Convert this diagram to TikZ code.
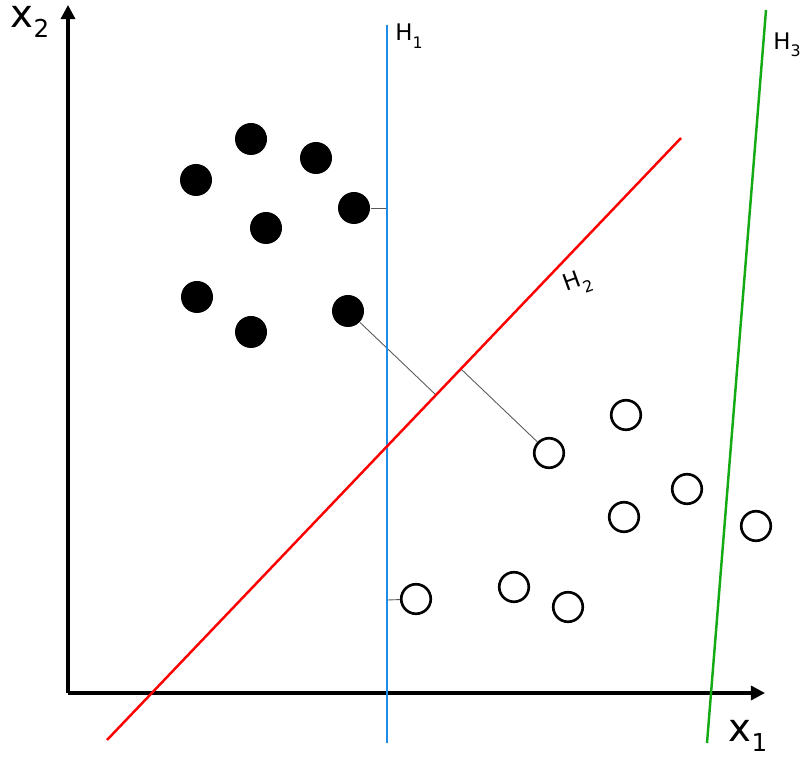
\documentclass[tikz,border=0pt]{standalone}
\usepackage{fontspec}
\setmainfont{DejaVu Sans}
\usetikzlibrary{arrows.meta}
\definecolor{hblue}{RGB}{30,140,230}
\definecolor{hgreen}{RGB}{20,170,20}
\begin{document}
\begin{tikzpicture}[x=0.01cm,y=-0.01cm]
        \tikzstyle{axis}=[line width=0.9pt,-{Triangle[length=4pt,width=4pt]}]
        \tikzstyle{filled}=[circle,fill=black,minimum size=9.1pt,inner sep=0pt]
        \tikzstyle{hollow}=[circle,draw=black,line width=0.75pt,minimum size=8.4pt,inner sep=0pt]
        \tikzstyle{gap}=[draw=gray!70!black,line width=0.25pt]
        \tikzstyle{hlabel}=[font=\fontsize{6.5}{7}\selectfont,inner sep=0pt]
        \useasboundingbox (0,0) rectangle (800,764);

        \coordinate (O) at (68,693);
        \draw[axis] (O) -- (68,5);
        \draw[axis] (O) -- (765,693);
        \node[inner sep=0pt] (lx2) at (30,22) {\fontsize{11}{11}\selectfont x\raisebox{-0.5ex}{\fontsize{7}{7}\selectfont 2}};
        \node[inner sep=0pt] (lx1) at (748,736) {\fontsize{11}{11}\selectfont x\raisebox{-0.5ex}{\fontsize{7}{7}\selectfont 1}};

        \foreach \name/\x/\y in {B-1/196/180, B-2/251/139, B-3/316/158, B-4/354/208,
                  B-5/266/228, B-6/197/297, B-7/251/332, B-8/348/311}
                \node[filled] (\name) at (\x,\y) {};
        \foreach \name/\x/\y in {W-1/549/453, W-2/626/415, W-3/687/489, W-4/624/517,
                  W-5/756/526, W-6/416/599, W-7/514/587, W-8/568/607}
                \node[hollow] (\name) at (\x,\y) {};

        % margins
        \coordinate (F-1) at (387,208);
        \coordinate (F-2) at (387,600);
        \coordinate (F-3) at (436,395);
        \coordinate (F-4) at (461,369);
        \draw[gap] (B-4) -- (F-1);
        \draw[gap] (W-6) -- (F-2);
        \draw[gap] (B-8) -- (F-3);
        \draw[gap] (W-1) -- (F-4);

        % hyperplanes
        \draw[hblue,line width=0.7pt] (387,25) -- (387,743);
        \draw[red,line width=0.7pt] (107,740) -- (681,138);
        \draw[hgreen,line width=0.7pt] (707,743) -- (766,10);
        \node[hlabel] (H1) at (409,36) {H\raisebox{-0.6ex}{\fontsize{4.5}{5}\selectfont 1}};
        \node[hlabel,rotate=20] (H2) at (578,283) {H\raisebox{-0.6ex}{\fontsize{4.5}{5}\selectfont 2}};
        \node[hlabel] (H3) at (787,45) {H\raisebox{-0.6ex}{\fontsize{4.5}{5}\selectfont 3}};
\end{tikzpicture}
\end{document}
